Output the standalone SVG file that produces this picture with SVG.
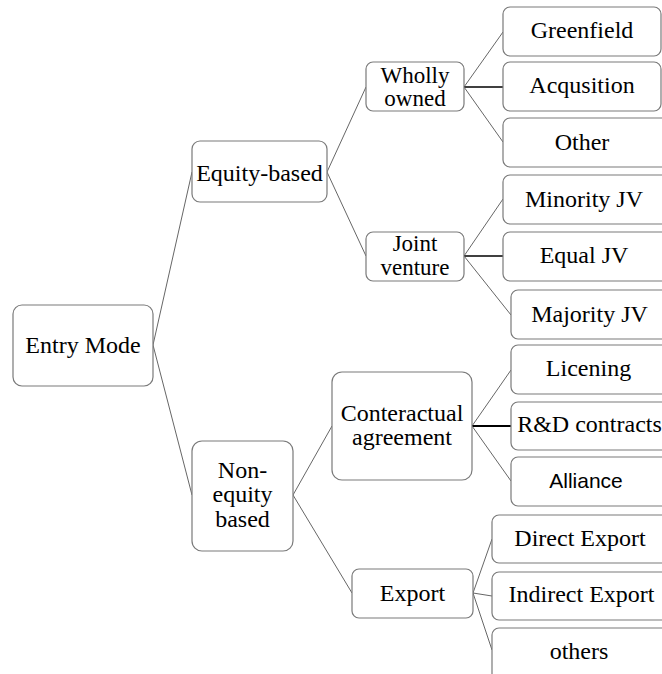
<svg xmlns="http://www.w3.org/2000/svg" width="662" height="674" viewBox="0 0 662 674">
<style>
.box{fill:#fff;stroke:#7a7a7a;stroke-width:1.2}
.t{font-family:"Liberation Serif","Times New Roman",serif;font-size:24px;fill:#000;text-anchor:middle}
.t2{font-family:"Liberation Serif","Times New Roman",serif;font-size:23px;fill:#000;text-anchor:middle}
.s{font-family:"Liberation Sans",Arial,sans-serif;font-size:21px;fill:#000;text-anchor:middle}
.c{stroke:#555;stroke-width:0.9;fill:none}
.k{stroke:#000;stroke-width:1.6;fill:none}
.k2{stroke:#000;stroke-width:2.2;fill:none}
</style>
<rect width="662" height="674" fill="#fff"/>
<g id="connectors">
<line class="c" x1="153" y1="345" x2="192" y2="172"/>
<line class="c" x1="153" y1="345" x2="192" y2="495"/>
<line class="c" x1="327" y1="172" x2="366" y2="87"/>
<line class="c" x1="327" y1="172" x2="366" y2="256"/>
<line class="c" x1="293" y1="495" x2="332" y2="426"/>
<line class="c" x1="293" y1="495" x2="352" y2="593"/>
<line class="c" x1="464" y1="87" x2="503" y2="32"/>
<line class="k" x1="464" y1="87" x2="503" y2="87"/>
<line class="c" x1="464" y1="87" x2="503" y2="142"/>
<line class="c" x1="464" y1="256" x2="503" y2="199"/>
<line class="k" x1="464" y1="256" x2="503" y2="256"/>
<line class="c" x1="464" y1="256" x2="511" y2="315"/>
<line class="c" x1="472" y1="426" x2="511" y2="370"/>
<line class="k2" x1="472" y1="426" x2="511" y2="426"/>
<line class="c" x1="472" y1="426" x2="511" y2="481"/>
<line class="c" x1="473" y1="593" x2="492" y2="539"/>
<line class="c" x1="473" y1="593" x2="492" y2="596"/>
<line class="c" x1="473" y1="593" x2="492" y2="650"/>
</g>
<g id="entry-mode"><rect class="box" x="13" y="305" width="140" height="81" rx="9"/><text class="t" x="83" y="353">Entry Mode</text></g>
<g id="equity-based"><rect class="box" x="192" y="141" width="135" height="61" rx="8"/><text class="t" x="259.5" y="181">Equity-based</text></g>
<g id="non-equity-based"><rect class="box" x="192" y="441" width="101" height="110" rx="10"/><text class="t" x="242.5" y="478">Non-</text><text class="t" x="242.5" y="502">equity</text><text class="t" x="242.5" y="527">based</text></g>
<g id="wholly-owned"><rect class="box" x="366" y="62" width="98" height="49" rx="7"/><text class="t2" x="415" y="83">Wholly</text><text class="t2" x="415" y="106">owned</text></g>
<g id="joint-venture"><rect class="box" x="366" y="232" width="98" height="49" rx="7"/><text class="t2" x="415" y="251">Joint</text><text class="t2" x="415" y="275">venture</text></g>
<g id="conteractual-agreement"><rect class="box" x="332" y="372" width="140" height="108" rx="10"/><text class="t" x="402" y="421">Conteractual</text><text class="t" x="402" y="445">agreement</text></g>
<g id="export"><rect class="box" x="352" y="569" width="121" height="49" rx="7"/><text class="t" x="412.5" y="601">Export</text></g>
<g id="greenfield"><rect class="box" x="503" y="7" width="158" height="49" rx="7"/><text class="t" x="582" y="38">Greenfield</text></g>
<g id="acqusition"><rect class="box" x="503" y="62" width="158" height="49" rx="7"/><text class="t" x="582" y="93">Acqusition</text></g>
<g id="other"><rect class="box" x="503" y="118" width="170" height="49" rx="7"/><text class="t" x="582" y="150">Other</text></g>
<g id="minority-jv"><rect class="box" x="503" y="175" width="170" height="49" rx="7"/><text class="t" x="584" y="207">Minority JV</text></g>
<g id="equal-jv"><rect class="box" x="503" y="232" width="170" height="49" rx="7"/><text class="t" x="584" y="263">Equal JV</text></g>
<g id="majority-jv"><rect class="box" x="511" y="290" width="170" height="49" rx="7"/><text class="t" x="589.5" y="322">Majority JV</text></g>
<g id="licening"><rect class="box" x="511" y="345" width="170" height="49" rx="7"/><text class="t" x="588.5" y="376">Licening</text></g>
<g id="rd-contracts"><rect class="box" x="511" y="402" width="170" height="48" rx="7"/><text class="t" x="589.5" y="432">R&amp;D contracts</text></g>
<g id="alliance"><rect class="box" x="511" y="457" width="170" height="49" rx="7"/><text class="s" x="586" y="488">Alliance</text></g>
<g id="direct-export"><rect class="box" x="492" y="515" width="190" height="48" rx="7"/><text class="t" x="580" y="546">Direct Export</text></g>
<g id="indirect-export"><rect class="box" x="492" y="572" width="190" height="48" rx="7"/><text class="t" x="581.5" y="602">Indirect Export</text></g>
<g id="others"><rect class="box" x="492" y="628" width="190" height="60" rx="7"/><text class="t" x="579" y="659">others</text></g>
</svg>
